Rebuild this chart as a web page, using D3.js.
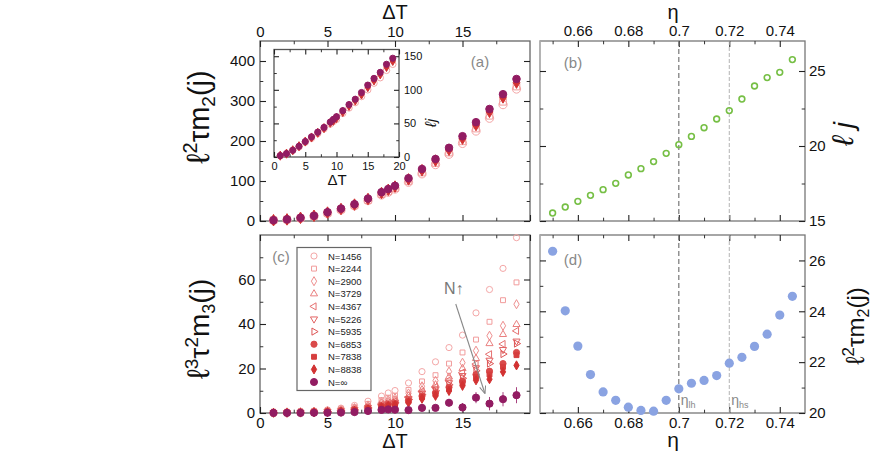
<!DOCTYPE html>
<html>
<head>
<meta charset="utf-8">
<script src="https://cdn.jsdelivr.net/npm/d3@7"></script>
<style>
body { margin: 0; background: #fff; }
</style>
</head>
<body>
<script>
// ---- data ----
const dT = [1, 2, 3, 4, 5, 6, 7, 8, 9, 9.5, 10, 11, 12, 13, 14, 15, 16, 17, 18, 19];

// (a) l^2 tau m2(j) vs dT
const a_1456 = [1, 3, 7, 12, 19, 28, 38, 51, 65, 72, 80, 97, 118, 141, 167, 194, 225, 257, 291, 330];
const a_2244 = [2, 4, 7, 12, 20, 29, 39, 52, 67, 74, 82, 100, 121, 145, 171, 199, 231, 263, 298, 336];
const a_8838 = [2, 4, 8, 13, 21, 30, 41, 55, 70, 78, 86, 104, 127, 151, 178, 206, 240, 273, 309, 346];
const a_inf = [2, 4, 8, 13, 22, 31, 42, 56, 72, 80, 88, 107, 130, 155, 183, 212, 247, 280, 317, 355];

// inset: l j vs dT
const lj_1456 = [2, 5, 10, 15, 22, 28, 35, 42, 49, 53, 56, 65, 73, 81, 90, 100, 110, 118, 129, 138];
const lj_8838 = [2, 5, 10, 16, 23, 29, 36, 43, 51, 54, 58, 67, 76, 84, 93, 104, 114, 123, 134, 143];
const lj_inf = [2, 5, 10, 16, 23, 30, 37, 44, 52, 56, 60, 69, 78, 86, 96, 107, 117, 126, 138, 147];

// (c) l^3 tau^2 m3(j) vs dT
const c_1456 = [0.3, 0.4, 0.6, 0.9, 1.4, 2.2, 3.4, 5.3, 7.6, 9.0, 10.1, 13.5, 18.6, 23.0, 29.4, 35.0, 45.0, 55.5, 65.0, 78.8];
const c_2244 = [0.2, 0.3, 0.5, 0.7, 1.1, 1.7, 2.6, 4.1, 5.8, 6.9, 7.8, 10.4, 14.2, 17.0, 22.2, 27.2, 33.0, 41.0, 50.7, 58.7];
const c_2900 = [0.2, 0.3, 0.4, 0.6, 0.9, 1.4, 2.2, 3.4, 4.9, 5.8, 6.6, 8.8, 12.0, 14.5, 18.6, 22.6, 28.0, 34.7, 39.2, 48.9];
const c_3729 = [0.2, 0.2, 0.4, 0.5, 0.8, 1.2, 1.9, 3.0, 4.3, 5.1, 5.8, 7.7, 10.5, 12.7, 16.2, 20.0, 24.5, 31.2, 35.3, 39.8];
const c_4367 = [0.1, 0.2, 0.3, 0.5, 0.7, 1.1, 1.7, 2.7, 3.9, 4.6, 5.3, 7.1, 9.7, 11.7, 14.8, 18.2, 22.0, 26.4, 31.0, 36.9];
const c_5226 = [0.1, 0.2, 0.3, 0.4, 0.6, 1.0, 1.5, 2.5, 3.6, 4.3, 4.9, 6.5, 8.9, 10.7, 13.6, 16.8, 20.3, 23.7, 28.5, 32.3];
const c_5935 = [0.1, 0.2, 0.3, 0.4, 0.6, 0.9, 1.4, 2.3, 3.4, 4.0, 4.6, 6.1, 8.3, 10.0, 12.7, 15.6, 19.0, 22.2, 26.5, 31.2];
const c_6853 = [0.1, 0.1, 0.2, 0.3, 0.5, 0.8, 1.3, 2.1, 3.1, 3.7, 4.2, 5.6, 7.6, 9.1, 11.6, 14.3, 17.3, 18.8, 22.2, 27.2];
const c_7838 = [0.1, 0.1, 0.2, 0.3, 0.5, 0.7, 1.2, 1.9, 2.9, 3.4, 3.9, 5.2, 7.1, 8.5, 10.9, 13.4, 16.2, 17.3, 20.7, 26.0];
const c_8838 = [0.1, 0.1, 0.2, 0.3, 0.4, 0.6, 1.0, 1.7, 2.6, 3.1, 3.5, 4.7, 6.4, 7.7, 9.9, 12.2, 14.7, 15.2, 18.5, 21.4];
const c_inf = [0.05, 0.05, 0.05, 0.1, 0.1, 0.2, 0.4, 0.9, 1.4, 1.6, 1.5, 1.3, 2.3, 2.3, 4.6, 2.5, 6.9, 4.2, 6.2, 8.0];
const c_inf_err = [0.1, 0.1, 0.1, 0.2, 0.3, 0.4, 0.5, 0.7, 0.9, 1.0, 1.0, 1.1, 1.3, 1.4, 1.6, 2.0, 2.5, 3.0, 3.2, 3.6];

const Nlabels = ["N=1456", "N=2244", "N=2900", "N=3729", "N=4367", "N=5226", "N=5935", "N=6853", "N=7838", "N=8838", "N=\u221e"];

// (b), (d) vs eta
const eta = [0.65, 0.655, 0.66, 0.665, 0.67, 0.675, 0.68, 0.685, 0.69, 0.695, 0.70, 0.705, 0.71, 0.715, 0.72, 0.725, 0.73, 0.735, 0.74, 0.745];
const lj_eta = [15.53, 15.93, 16.31, 16.71, 17.09, 17.51, 18.07, 18.49, 18.96, 19.51, 20.09, 20.64, 21.22, 21.8, 22.36, 23.13, 24.0, 24.56, 24.91, 25.76];
const m2_eta = [26.36, 24.02, 22.63, 21.51, 20.83, 20.5, 20.23, 20.1, 20.07, 20.5, 20.95, 21.17, 21.28, 21.47, 21.96, 22.19, 22.62, 23.1, 23.85, 24.59];

const xTicksT = [0, 5, 10, 15];
const xTicksEta = [0.66, 0.68, 0.70, 0.72, 0.74];

// ---- drawing ----
const FONT = "'Liberation Sans', Arial, Helvetica, sans-serif";
const svg = d3.select("body").append("svg").attr("width", 872).attr("height", 455)
  .style("font-family", FONT);

function panel(x0, x1, y0, y1, xd, yd) {
  return {
    x: d3.scaleLinear().domain(xd).range([x0, x1]),
    y: d3.scaleLinear().domain(yd).range([y1, y0]),
    x0, x1, y0, y1
  };
}

const pa = panel(260, 530, 41, 221, [0, 20], [0, 450]);
const pb = panel(540, 805, 41, 221, [0.645, 0.75], [15, 27]);
const pc = panel(260, 530, 235, 413, [0, 20], [0, 80]);
const pd = panel(540, 805, 235, 413, [0.645, 0.75], [20, 27]);
const pin = panel(274, 399, 49.5, 157, [0, 20], [0, 160]);

function ticks(p, side, major, minor, labeled, opt) {
  opt = opt || {};
  const horiz = side === "top" || side === "bottom";
  const sc = horiz ? p.x : p.y;
  const gen = { top: d3.axisTop, bottom: d3.axisBottom, left: d3.axisLeft, right: d3.axisRight }[side];
  const tr = { top: [0, p.y0], bottom: [0, p.y1], left: [p.x0, 0], right: [p.x1, 0] }[side];
  const len = opt.len || 6;

  const gm = svg.append("g").attr("transform", `translate(${tr[0]},${tr[1]})`);
  gm.call(gen(sc).tickValues(minor).tickSize(-len * 0.55).tickFormat(""));
  gm.select(".domain").remove();
  gm.selectAll("line").attr("stroke", "#333").attr("stroke-width", 1);

  const g = svg.append("g").attr("transform", `translate(${tr[0]},${tr[1]})`);
  g.call(gen(sc).tickValues(major).tickSize(-len).tickPadding(opt.pad || 5)
    .tickFormat(labeled ? (d => d) : (() => "")));
  g.select(".domain").remove();
  g.attr("font-family", FONT).attr("font-size", opt.size || 15);
  g.selectAll("line").attr("stroke", "#222").attr("stroke-width", 1.1);
  g.selectAll("text").attr("fill", "#111");
}

function frame(p, col, leftCol) {
  svg.append("rect").attr("x", p.x0).attr("y", p.y0)
    .attr("width", p.x1 - p.x0).attr("height", p.y1 - p.y0)
    .attr("fill", "none").attr("stroke", col).attr("stroke-width", 1.3);
  if (leftCol) {
    svg.append("line").attr("x1", p.x0).attr("x2", p.x0).attr("y1", p.y0).attr("y2", p.y1)
      .attr("stroke", leftCol).attr("stroke-width", 1.3);
  }
}

function label(x, y, parts, rot, anchor, color, italic) {
  const t = svg.append("text")
    .attr("transform", `translate(${x},${y})` + (rot ? ` rotate(${rot})` : ""))
    .attr("text-anchor", anchor || "middle")
    .attr("fill", color || "#111");
  if (italic) t.attr("font-style", "italic");
  parts.forEach(q => {
    t.append("tspan").attr("font-size", q[1]).attr("dy", q[2] || 0).text(q[0]);
  });
  return t;
}

// marker styles per N
const styles = [
  { sym: d3.symbolCircle, rot: 0, fill: false, col: "#f4a7a7" },
  { sym: d3.symbolSquare, rot: 0, fill: false, col: "#f19b9b" },
  { sym: d3.symbolDiamond, rot: 0, fill: false, col: "#ee8e8e" },
  { sym: d3.symbolTriangle, rot: 0, fill: false, col: "#ea8080" },
  { sym: d3.symbolTriangle, rot: -90, fill: false, col: "#e67171" },
  { sym: d3.symbolTriangle, rot: 180, fill: false, col: "#e26363" },
  { sym: d3.symbolTriangle, rot: 90, fill: false, col: "#de5656" },
  { sym: d3.symbolCircle, rot: 0, fill: true, col: "#da4a4a" },
  { sym: d3.symbolSquare, rot: 0, fill: true, col: "#d63e3e" },
  { sym: d3.symbolDiamond, rot: 0, fill: true, col: "#d23232" },
  { sym: d3.symbolCircle, rot: 0, fill: true, col: "#921c62" }
];

function symSize(s, k) {
  if (s.sym === d3.symbolTriangle) return 22 * k;
  if (s.sym === d3.symbolDiamond) return 24 * k;
  if (s.sym === d3.symbolSquare) return 24 * k;
  return 30 * k;
}

function drawSeries(p, xs, ys, si, k) {
  const s = styles[si];
  const path = d3.symbol().type(s.sym).size(symSize(s, k))();
  svg.append("g").selectAll("path").data(ys).enter().append("path")
    .attr("d", path)
    .attr("transform", (d, i) => `translate(${p.x(xs[i])},${p.y(d)}) rotate(${s.rot})`)
    .attr("fill", s.fill ? s.col : "none")
    .attr("stroke", s.col)
    .attr("stroke-width", 1);
}

// ===== panel (a) =====
frame(pa, "#666");
ticks(pa, "top", xTicksT, [2.5, 7.5, 12.5, 17.5], true, { pad: 4 });
ticks(pa, "bottom", [0, 5, 10, 15, 20], [2.5, 7.5, 12.5, 17.5], false);
ticks(pa, "left", [0, 100, 200, 300, 400], [50, 150, 250, 350], true, { pad: 5 });
ticks(pa, "right", [0, 100, 200, 300, 400], [50, 150, 250, 350], false);
drawSeries(pa, dT, a_1456, 0, 1.8);
drawSeries(pa, dT, a_2244, 1, 1.8);
drawSeries(pa, dT, a_8838, 9, 1.6);
drawSeries(pa, dT, a_inf, 10, 1.5);
label(480, 67, [["(a)", 15]], 0, "middle", "#888");

// inset
svg.append("rect").attr("x", pin.x0).attr("y", pin.y0)
  .attr("width", pin.x1 - pin.x0).attr("height", pin.y1 - pin.y0).attr("fill", "#fff");
frame(pin, "#555");
ticks(pin, "bottom", [0, 5, 10, 15, 20], [2.5, 7.5, 12.5, 17.5], true, { size: 11, pad: 5, len: 5 });
ticks(pin, "top", [0, 5, 10, 15, 20], [2.5, 7.5, 12.5, 17.5], false, { len: 5 });
ticks(pin, "left", [0, 50, 100, 150], [25, 75, 125], false, { len: 5 });
ticks(pin, "right", [0, 50, 100, 150], [25, 75, 125], true, { size: 11, pad: 5, len: 5 });
drawSeries(pin, dT, lj_1456, 0, 1.1);
drawSeries(pin, dT, lj_8838, 9, 1.0);
drawSeries(pin, dT, lj_inf, 10, 1.0);
label(337, 185, [["\u0394T", 15]]);
label(436, 123, [["\u2113", 16], ["j", 15]], -90, "middle", "#111", true);

// ===== panel (b) =====
frame(pb, "#777", "#bbb");
ticks(pb, "top", xTicksEta, [0.65, 0.67, 0.69, 0.71, 0.73], true, { pad: 5 });
ticks(pb, "bottom", xTicksEta, [0.65, 0.67, 0.69, 0.71, 0.73], false);
ticks(pb, "left", [15, 20, 25], [17.5, 22.5], false);
ticks(pb, "right", [15, 20, 25], [17.5, 22.5], true, { pad: 4 });
function vlines(p) {
  svg.append("line").attr("x1", p.x(0.70)).attr("x2", p.x(0.70)).attr("y1", p.y0).attr("y2", p.y1)
    .attr("stroke", "#777").attr("stroke-width", 1.2).attr("stroke-dasharray", "5,3");
  svg.append("line").attr("x1", p.x(0.72)).attr("x2", p.x(0.72)).attr("y1", p.y0).attr("y2", p.y1)
    .attr("stroke", "#aaa").attr("stroke-width", 0.9).attr("stroke-dasharray", "4,2");
}
vlines(pb);
svg.append("g").selectAll("circle").data(lj_eta).enter().append("circle")
  .attr("cx", (d, i) => pb.x(eta[i])).attr("cy", d => pb.y(d)).attr("r", 2.9)
  .attr("fill", "none").attr("stroke", "#76bf45").attr("stroke-width", 1.6);
label(573, 68, [["(b)", 15]], 0, "middle", "#888");

// ===== panel (c) =====
frame(pc, "#666");
ticks(pc, "bottom", xTicksT, [2.5, 7.5, 12.5, 17.5], true, { pad: 4 });
ticks(pc, "top", [0, 5, 10, 15, 20], [2.5, 7.5, 12.5, 17.5], false);
ticks(pc, "left", [0, 20, 40, 60], [10, 30, 50, 70], true, { pad: 5 });
ticks(pc, "right", [0, 20, 40, 60], [10, 30, 50, 70], false);
const cSeries = [c_1456, c_2244, c_2900, c_3729, c_4367, c_5226, c_5935, c_6853, c_7838, c_8838];
cSeries.forEach((ys, si) => drawSeries(pc, dT, ys, si, 1));
// error bars of N = infinity
svg.append("g").selectAll("line").data(c_inf).enter().append("line")
  .attr("x1", (d, i) => pc.x(dT[i])).attr("x2", (d, i) => pc.x(dT[i]))
  .attr("y1", (d, i) => pc.y(d - c_inf_err[i])).attr("y2", (d, i) => pc.y(d + c_inf_err[i]))
  .attr("stroke", "#a8437f").attr("stroke-width", 1);
drawSeries(pc, dT, c_inf, 10, 1.35);
label(281, 262, [["(c)", 15]], 0, "middle", "#888");

// legend
const lg = svg.append("g");
lg.append("rect").attr("x", 297).attr("y", 247.5).attr("width", 74).attr("height", 143)
  .attr("fill", "#fff").attr("stroke", "#666").attr("stroke-width", 1.2);
const ly = d3.scaleLinear().domain([0, 10]).range([256, 382]);
Nlabels.forEach((t, i) => {
  const s = styles[i];
  lg.append("path")
    .attr("d", d3.symbol().type(s.sym).size(symSize(s, i === 10 ? 1.3 : 1))())
    .attr("transform", `translate(314,${ly(i)}) rotate(${s.rot})`)
    .attr("fill", s.fill ? s.col : "none").attr("stroke", s.col).attr("stroke-width", 1);
  lg.append("text").attr("x", 328).attr("y", ly(i) + 3.5).attr("font-size", 9.5)
    .attr("fill", "#222").text(t);
});

// N arrow
svg.append("defs").append("marker").attr("id", "ah").attr("viewBox", "0 0 10 10")
  .attr("refX", 9).attr("refY", 5).attr("markerWidth", 7).attr("markerHeight", 7)
  .attr("orient", "auto")
  .append("path").attr("d", "M0,1 L10,5 L0,9").attr("fill", "none").attr("stroke", "#888").attr("stroke-width", 1.3);
svg.append("line")
  .attr("x1", pc.x(14.5)).attr("y1", pc.y(49)).attr("x2", pc.x(16.65)).attr("y2", pc.y(9))
  .attr("stroke", "#888").attr("stroke-width", 1.1).attr("marker-end", "url(#ah)");
label(pc.x(14.5) - 2, pc.y(53.5), [["N\u2191", 16]], 0, "middle", "#777");

// ===== panel (d) =====
frame(pd, "#777", "#bbb");
ticks(pd, "bottom", xTicksEta, [0.65, 0.67, 0.69, 0.71, 0.73], true, { pad: 4 });
ticks(pd, "top", xTicksEta, [0.65, 0.67, 0.69, 0.71, 0.73], false);
ticks(pd, "left", [20, 22, 24, 26], [21, 23, 25], false);
ticks(pd, "right", [20, 22, 24, 26], [21, 23, 25], true, { pad: 4 });
vlines(pd);
svg.append("g").selectAll("circle").data(m2_eta).enter().append("circle")
  .attr("cx", (d, i) => pd.x(eta[i])).attr("cy", d => pd.y(d)).attr("r", 4.6)
  .attr("fill", "#8aa3e2");
label(573, 265, [["(d)", 15]], 0, "middle", "#888");
label(pd.x(0.70) + 2, 405, [["\u03b7", 14], ["lh", 9, 3]], 0, "start", "#888");
label(pd.x(0.72) + 2, 405, [["\u03b7", 14], ["hs", 9, 3]], 0, "start", "#888");

// ===== axis titles =====
label(395, 19, [["\u0394T", 20]]);
label(395, 448, [["\u0394T", 20]]);
label(673, 19, [["\u03b7", 20]]);
label(673, 447, [["\u03b7", 21]]);

label(209, 117, [["\u2113", 32], ["2", 20, -12], ["\u03c4m", 29, 12], ["2", 19, 6], ["(j)", 29, -6]], -90);
label(209, 329, [["\u2113", 31], ["3", 19, -11], ["\u03c4", 28, 11], ["2", 19, -11], ["m", 28, 11], ["3", 18, 6], ["(j)", 28, -6]], -90);
label(853, 134, [["\u2113", 30], [" j", 28]], -90, "middle", "#111", true);
label(864, 326, [["\u2113", 26], ["2", 17, -10], ["\u03c4m", 24, 10], ["2", 16, 5], ["(j)", 24, -5]], -90);
</script>
</body>
</html>
